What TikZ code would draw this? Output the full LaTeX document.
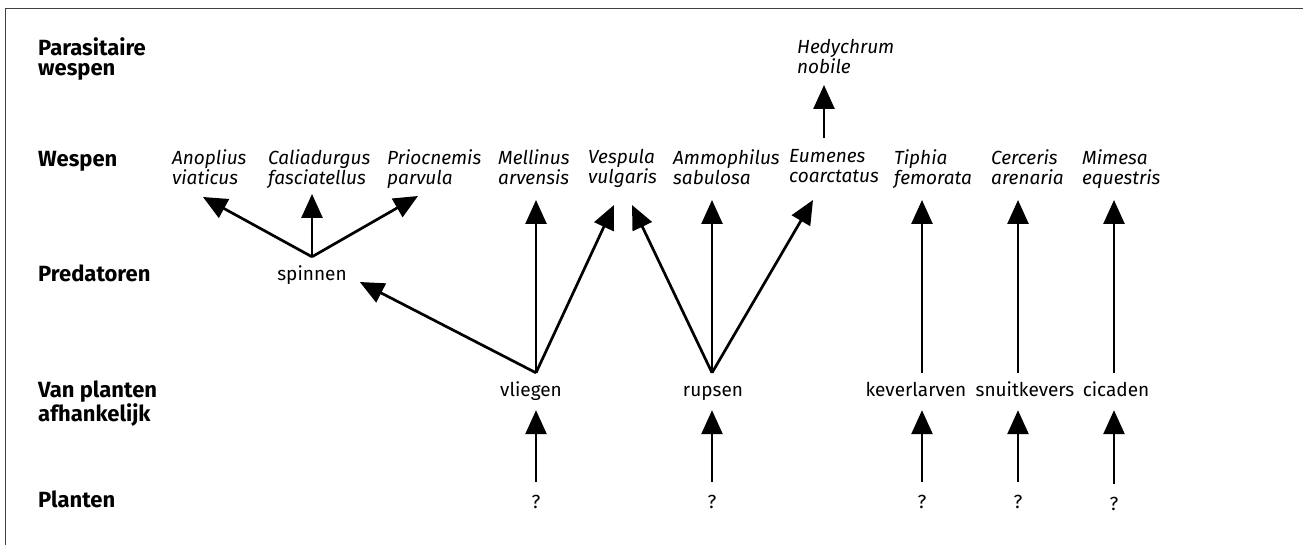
\documentclass[tikz,border=0pt]{standalone}
\usepackage{fontspec}
\setmainfont{Fira Sans}
\usetikzlibrary{arrows.meta}

\newcommand\webfont{\fontsize{19}{20}\selectfont}
\newcommand\levelfont{\fontsize{22}{20}\selectfont}

\begin{document}
\begin{tikzpicture}[x=1pt, y=-1pt,
    level/.style={font=\levelfont\bfseries, align=left, inner sep=0pt},
    wasp/.style={font=\webfont\itshape, align=left, inner sep=0pt, anchor=north west},
    prey/.style={font=\webfont, inner sep=0pt, text height=13pt, text depth=4pt, anchor=base},
    arr/.style={line width=2.7pt, -{Triangle[length=24pt, width=21pt]}}]

  \useasboundingbox (0,0) rectangle (1303,545);
  % frame, only top and left edge
  \draw[line width=1pt, black!75] (1303,9) -- (5,9) -- (5,545);

  % levels
  \node[level, anchor=north west] (lv-par) at (38,37.5) {Parasitaire\\wespen};
  \node[level, anchor=base west] (lv-wasp) at (38,167) {Wespen};
  \node[level, anchor=base west] (lv-pred) at (38,281) {Predatoren};
  \node[level, anchor=north west] (lv-herb) at (38,380.5) {Van planten\\afhankelijk};
  \node[level, anchor=base west] (lv-plant) at (38,507) {Planten};

  % wasps
  \node[wasp] (hedy) at (797,39.5) {Hedychrum\\nobile};
  \node[wasp] (anop) at (172,149.5) {Anoplius\\viaticus};
  \node[wasp] (calia) at (268,149.5) {Caliadurgus\\fasciatellus};
  \node[wasp] (prio) at (387,149.5) {Priocnemis\\parvula};
  \node[wasp] (mell) at (498,149.5) {Mellinus\\arvensis};
  \node[wasp] (vesp) at (588,149.5) {Vespula\\vulgaris};
  \node[wasp] (ammo) at (673,149.5) {Ammophilus\\sabulosa};
  \node[wasp] (eum) at (789,149.5) {Eumenes\\coarctatus};
  \node[wasp] (tiph) at (894,149.5) {Tiphia\\femorata};
  \node[wasp] (cerc) at (991,149.5) {Cerceris\\arenaria};
  \node[wasp] (mim) at (1082,149.5) {Mimesa\\equestris};

  % prey
  \node[prey] (spin) at (312,280) {spinnen};
  \node[prey] (vlieg) at (531,396) {vliegen};
  \node[prey] (rups) at (713,396) {rupsen};
  \node[prey] (kever) at (916,396) {keverlarven};
  \node[prey] (snuit) at (1025,396) {snuitkevers};
  \node[prey] (cica) at (1116,396) {cicaden};

  % plants
  \node[prey] (q-vlieg) at (536,508) {?};
  \node[prey] (q-rups) at (712,508) {?};
  \node[prey] (q-kever) at (922,508) {?};
  \node[prey] (q-snuit) at (1018,508) {?};
  \node[prey] (q-cica) at (1114,510) {?};

  % plants -> prey
  \draw[arr, shorten <=13pt, shorten >=10pt] (q-vlieg.north) -- (q-vlieg.north |- vlieg.south);
  \draw[arr, shorten <=13pt, shorten >=10pt] (q-rups.north) -- (q-rups.north |- rups.south);
  \draw[arr, shorten <=13pt, shorten >=10pt] (q-kever.north) -- (q-kever.north |- kever.south);
  \draw[arr, shorten <=13pt, shorten >=10pt] (q-snuit.north) -- (q-snuit.north |- snuit.south);
  \draw[arr, shorten <=13pt, shorten >=10pt] (q-cica.north) -- (q-cica.north |- cica.south);

  % fork points
  \path (q-vlieg.north |- vlieg.north) ++(0,-10) coordinate (vfork);
  \path (q-rups.north |- rups.north) ++(0,-10) coordinate (rfork);
  \path (spin.north) ++(0,-10) coordinate (sfork);

  % vliegen
  \draw[arr] (vfork) -- ([shift={(13,2)}]spin.base east);
  \draw[arr, shorten >=50.5pt] (vfork) -- (vfork |- mell.north);
  \draw[arr] (vfork) -- ([shift={(26,55.5)}]vesp.north west);

  % rupsen
  \draw[arr] (rfork) -- ([shift={(44,55.5)}]vesp.north west);
  \draw[arr, shorten >=50.5pt] (rfork) -- (rfork |- ammo.north);
  \draw[arr] (rfork) -- ([shift={(24,50.5)}]eum.north west);

  % spinnen
  \draw[arr] (sfork) -- ([shift={(31,47.5)}]anop.north west);
  \draw[arr, shorten >=44.5pt] (sfork) -- (sfork |- calia.north);
  \draw[arr] (sfork) -- ([shift={(31,46.5)}]prio.north west);

  % straight lines
  \draw[arr, shorten <=10pt, shorten >=50.5pt] (q-kever.north |- kever.north) -- (q-kever.north |- tiph.north);
  \draw[arr, shorten <=10pt, shorten >=50.5pt] (q-snuit.north |- snuit.north) -- (q-snuit.north |- cerc.north);
  \draw[arr, shorten <=10pt, shorten >=50.5pt] (q-cica.north |- cica.north) -- (q-cica.north |- mim.north);

  % parasite
  \draw[arr, shorten <=11.5pt, shorten >=45.5pt] ([shift={(35,0)}]eum.north west) -- ([shift={(27,0)}]hedy.north west);
\end{tikzpicture}
\end{document}
